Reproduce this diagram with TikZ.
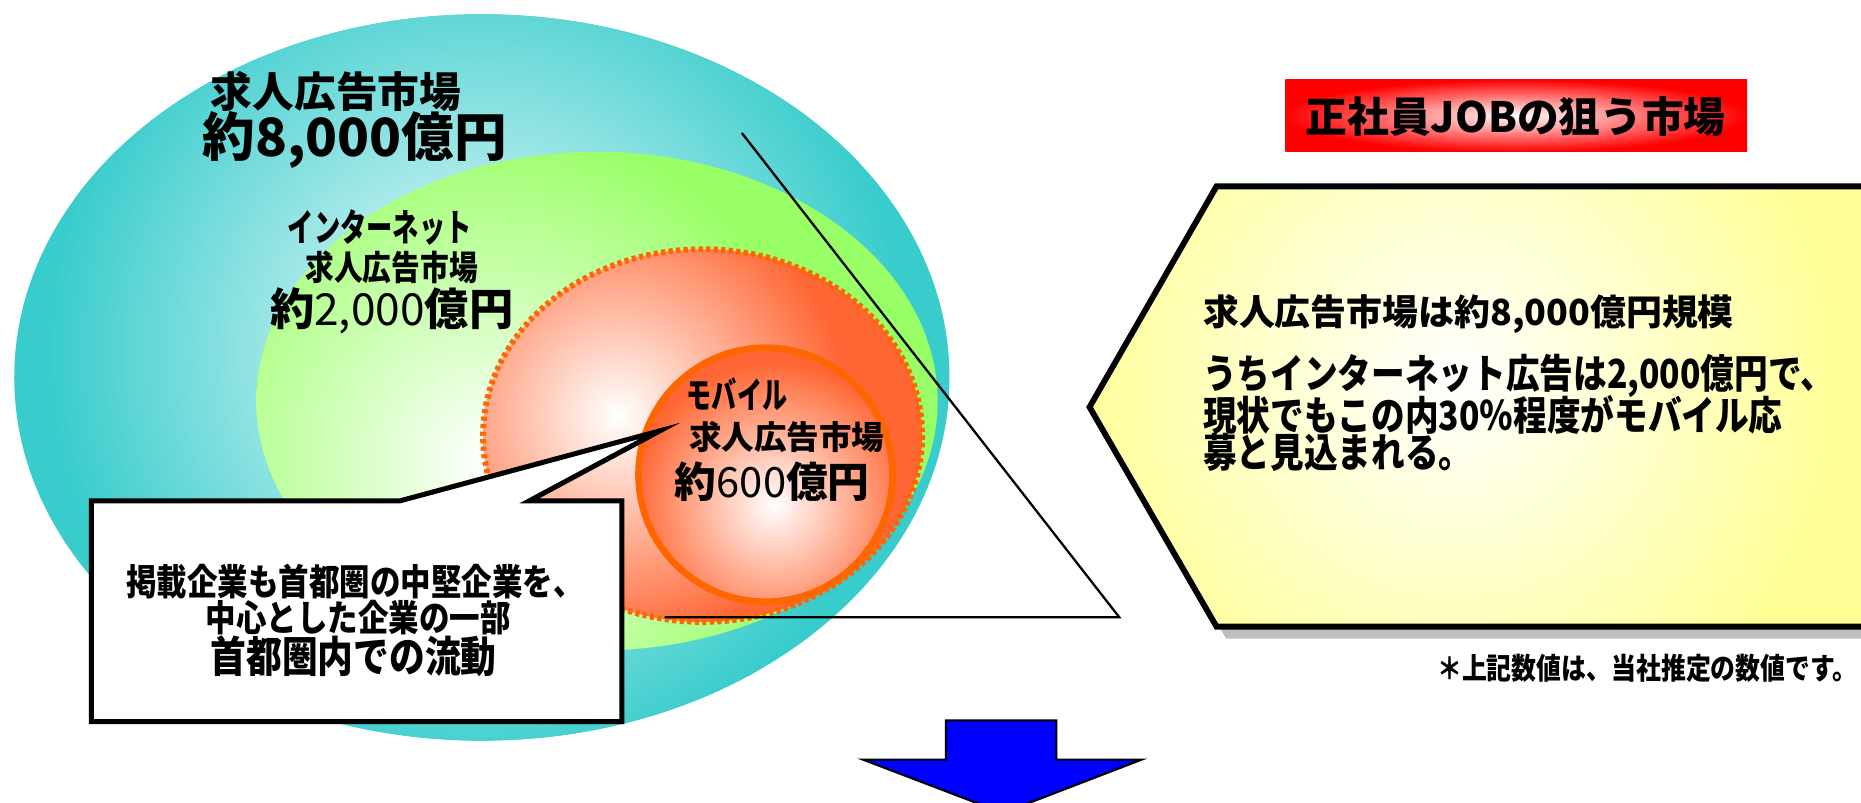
\documentclass[tikz,border=0pt]{standalone}
\usepackage{fontspec}
\setmainfont{Noto Sans CJK JP}
\newfontfamily\jp{Noto Sans CJK JP}
\newfontfamily\jpc[FakeStretch=0.84]{Noto Sans CJK JP}
\newfontfamily\jpk[FakeStretch=0.7]{Noto Sans CJK JP}
\usetikzlibrary{positioning}
\definecolor{mkteal}{RGB}{57,204,204}
\definecolor{mkgreen}{RGB}{153,255,102}
\definecolor{mkorange}{RGB}{255,102,51}
\definecolor{mkline}{RGB}{255,102,0}
\definecolor{mkyellow}{RGB}{255,255,150}
\definecolor{mkshadow}{RGB}{190,190,190}
\begin{document}
\begin{tikzpicture}[x=0.01cm, y=-0.01cm,
    lbl/.style={inner sep=0pt, font=\jp\bfseries\fontsize{10}{12}\selectfont},
    big/.style={inner sep=0pt, font=\jp\bfseries\fontsize{12.6}{15}\selectfont},
    cnd/.style={inner sep=0pt, font=\jpc\bfseries\fontsize{8.2}{10}\selectfont},
    txt/.style={inner sep=0pt, anchor=west, font=\jpc\bfseries\fontsize{9.6}{11}\selectfont}]
  \useasboundingbox (0,0) rectangle (1568,676);
  \begin{scope}
    \clip (406,318) ellipse [x radius=394, y radius=306];
    \fill[mkteal] (0,0) rectangle (820,640);
    \shade[inner color=mkteal!5, outer color=mkteal] (400,295) circle [radius=360];
  \end{scope}
  \begin{scope}
    \clip (503,338) ellipse [x radius=287, y radius=210];
    \fill[mkgreen] (200,100) rectangle (800,560);
    \shade[inner color=white, outer color=mkgreen] (410,390) circle [radius=290];
  \end{scope}
  \begin{scope}
    \clip (592,367) ellipse [x radius=185, y radius=157];
    \fill[mkorange] (400,200) rectangle (780,530);
    \shade[inner color=white, outer color=mkorange] (520,350) circle [radius=195];
  \end{scope}
  \draw[mkline, line width=1.4pt, dash pattern=on 1pt off 0.8pt] (592,367) ellipse [x radius=185, y radius=157];
  \begin{scope}
    \clip (645,400) circle [radius=107];
    \fill[mkorange] (530,290) rectangle (760,510);
    \shade[inner color=white, outer color=mkorange] (652,425) circle [radius=120];
  \end{scope}
  \draw[mkline, line width=1.6pt] (645,400) circle [radius=107];
  \node[lbl, anchor=west] (t1) at (177,77) {求人広告市場};
  \node[big, anchor=west] (t2) at (170,118) {約8,000億円};
  \node[cnd, font=\jpk\bfseries\fontsize{9}{11}\selectfont] (n1) at (320,192) {インターネット};
  \node[cnd] (n2) at (330,225) {求人広告市場};
  \node[lbl, font=\jp\bfseries\fontsize{10.6}{13}\selectfont] (n3) at (330,262) {約{\mdseries 2,000}億円};
  \node[lbl, anchor=west, font=\jpk\bfseries\fontsize{8.6}{10}\selectfont] (m1) at (578,332) {モバイル};
  \node[lbl, anchor=west, font=\jp\bfseries\fontsize{7.8}{10}\selectfont] (m2) at (580,368) {求人広告市場};
  \node[lbl, anchor=west, font=\jp\bfseries\fontsize{10}{12}\selectfont] (m3) at (568,406) {約{\mdseries 600}億円};
  \coordinate (ta) at (625,112);
  \coordinate (tb) at (943,520);
  \coordinate (tc) at (560,520);
  \draw[line width=0.55pt] (ta) -- (tb) -- (tc);
  \draw[fill=white, line width=1.2pt] (77,422) -- (337,422) -- (556,363) -- (446,422) -- (524,422)
    -- (524,608) -- (77,608) -- cycle;
  \node[cnd, font=\jpc\bfseries\fontsize{8.7}{10}\selectfont] (c1) at (299,490) {掲載企業も首都圏の中堅企業を、};
  \node[cnd, font=\jpc\bfseries\fontsize{8.7}{10}\selectfont] (c2) at (302,520) {中心とした企業の一部};
  \node[cnd, font=\jpc\bfseries\fontsize{10.2}{12}\selectfont] (c3) at (298,553) {首都圏内での流動};
  \shade[inner color=white, outer color=red] (1083,67) rectangle (1472,128);
  \node[lbl] (title) at (1277,98) {正社員JOBの狙う市場};
  \fill[mkshadow] (1033,167) -- (1600,167) -- (1600,538) -- (1033,538) -- (926,353) -- cycle;
  \begin{scope}
    \clip (1025,157) -- (1600,157) -- (1600,528) -- (1025,528) -- (918,343) -- cycle;
    \fill[mkyellow] (900,150) rectangle (1600,540);
    \shade[inner color=white, outer color=mkyellow] (1225,320) circle [radius=330];
  \end{scope}
  \draw[line width=1.4pt] (1025,157) -- (1600,157) -- (1600,528) -- (1025,528) -- (918,343) -- cycle;
  \node[txt, font=\jp\bfseries\fontsize{8.6}{10}\selectfont] (y1) at (1013,265) {求人広告市場は約8,000億円規模};
  \node[txt] (y2) at (1013,317) {うちインターネット広告は2,000億円で、};
  \node[txt] (y3) at (1013,350) {現状でもこの内30％程度がモバイル応};
  \node[txt] (y4) at (1013,381) {募と見込まれる。};
  \node[cnd, anchor=east, font=\jpc\bfseries\fontsize{7.1}{8}\selectfont] (note) at (1566,563) {＊上記数値は、当社推定の数値です。};
  \draw[fill=blue, line width=0.5pt] (797,607) -- (890,607) -- (890,640) -- (962,640) -- (845,685)
    -- (727,640) -- (797,640) -- cycle;
\end{tikzpicture}
\end{document}
